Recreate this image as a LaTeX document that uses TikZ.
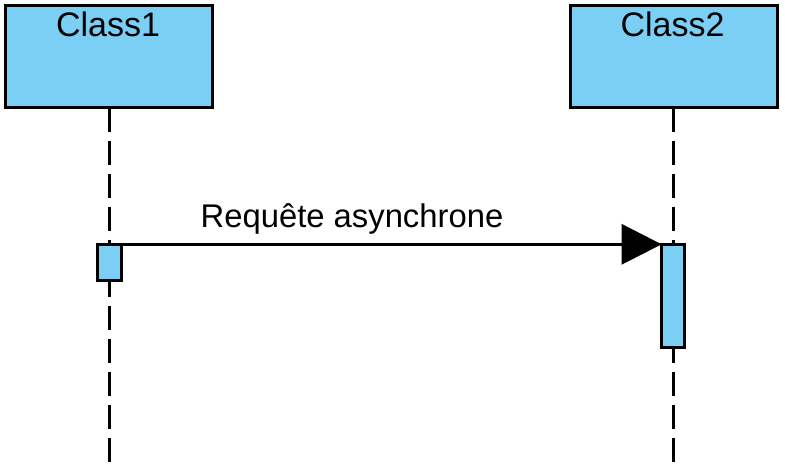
\documentclass[tikz,border=0pt]{standalone}
\usepackage{fontspec}
\setmainfont{Liberation Sans}
\usetikzlibrary{arrows.meta, positioning}
\definecolor{boxblue}{RGB}{123,207,244}

\begin{document}
\begin{tikzpicture}[x=1pt, y=-1pt, >={Triangle[length=40pt,width=40pt]},
    object/.style={draw, fill=boxblue, line width=3pt, outer sep=0pt, minimum width=207pt, minimum height=102pt},
    activation/.style={draw, fill=boxblue, line width=3pt, outer sep=0pt, inner sep=0pt, minimum width=23.3pt},
    lifeline/.style={line width=3pt, dash pattern=on 24pt off 9pt}]
    \useasboundingbox (0,0) rectangle (785,464);

    \node [object] (C1) at (109,56.5) {};
    \node [object] (C2) [right=357.5pt of C1] {};
    \node [anchor=base, font=\fontsize{34}{40}\selectfont] (T1) at (108,36) {Class1};
    \node [anchor=base, font=\fontsize{34}{40}\selectfont] (T2) at (672.5,36) {Class2};

    \coordinate (E1) at (109,464);
    \coordinate (E2) at (673.5,464);
    \draw [lifeline] (C1.south) -- (E1);
    \draw [lifeline] (C2.south) -- (E2);

    \node [activation, minimum height=36pt] (A1) at (109.4,262.3) {};
    \node [activation, minimum height=103.3pt] (A2) at (673.3,295.95) {};

    \draw [->, line width=3pt] (A1.north east) -- (A2.north west);
    \node [anchor=base, font=\fontsize{32.8}{40}\selectfont] (M1) at (352,227) {Requête asynchrone};
\end{tikzpicture}
\end{document}
